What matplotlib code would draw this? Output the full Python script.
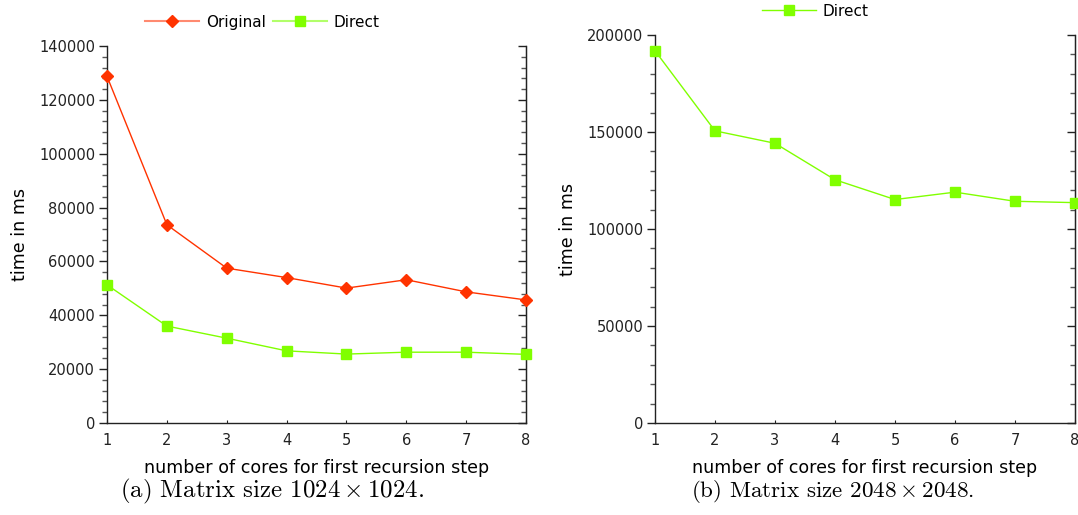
import matplotlib
matplotlib.use('Agg')
import matplotlib.pyplot as plt
from matplotlib.ticker import MultipleLocator

# data
cores = [1, 2, 3, 4, 5, 6, 7, 8]
orig_1024 = [128700, 73600, 57500, 54000, 50100, 53200, 48700, 45700]
direct_1024 = [51300, 36000, 31500, 26800, 25600, 26300, 26300, 25500]
direct_2048 = [191900, 150600, 144200, 125400, 115200, 119000, 114300, 113600]

red = '#ff3300'
green = '#80ff00'
red_light = '#ff8a70'
green_light = '#b2ff6a'
spine_color = '#222222'
tick_size = 10.5
label_size = 12.6
legend_size = 11

plt.rcParams['mathtext.fontset'] = 'cm'

fig = plt.figure(figsize=(10.78, 5.15), dpi=100)
ax1 = fig.add_axes([0.0993, 0.1786, 0.3887, 0.7321])
ax2 = fig.add_axes([0.6076, 0.1786, 0.3896, 0.7534])


def style(ax, ymax, major, minor):
    ax.set_xlim(1, 8)
    ax.set_ylim(0, ymax)
    ax.xaxis.set_major_locator(MultipleLocator(1))
    ax.yaxis.set_major_locator(MultipleLocator(major))
    ax.yaxis.set_minor_locator(MultipleLocator(minor))
    ax.spines['top'].set_visible(False)
    for s in ['left', 'right', 'bottom']:
        ax.spines[s].set_color(spine_color)
        ax.spines[s].set_linewidth(1)
    ax.tick_params(axis='y', which='major', direction='out', length=5.5, width=1,
                   labelsize=tick_size, colors=spine_color, pad=3)
    ax.tick_params(axis='y', which='minor', direction='out', length=3.5, width=1,
                   colors='#555555')
    ax.tick_params(axis='x', which='major', direction='in', length=2.5,
                   labelsize=tick_size, colors=spine_color, pad=7)
    # right side ticks point inwards
    sec = ax.secondary_yaxis('right')
    sec.yaxis.set_major_locator(MultipleLocator(major))
    sec.yaxis.set_minor_locator(MultipleLocator(minor))
    sec.tick_params(which='major', direction='in', length=5.5, width=1,
                    colors=spine_color, labelright=False)
    sec.tick_params(which='minor', direction='in', length=3.5, width=1,
                    colors='#555555')
    sec.spines['right'].set_color(spine_color)
    ax.set_xlabel('number of cores for first recursion step', fontsize=label_size,
                  labelpad=8)
    ax.set_ylabel('time in ms', fontsize=label_size, labelpad=7)


def lighten(leg, colors):
    for ln, c in zip(leg.get_lines(), colors):
        mc = ln.get_markerfacecolor()
        ln.set_color(c)
        ln.set_markerfacecolor(mc)
        ln.set_markeredgecolor(mc)
        ln.set_linewidth(1.5)


ax1.plot(cores, orig_1024, color=red, linewidth=1, marker='D', markersize=6,
         label='Original', clip_on=False, zorder=3)
ax1.plot(cores, direct_1024, color=green, linewidth=1, marker='s', markersize=7.5,
         label='Direct', clip_on=False, zorder=3)
style(ax1, 140000, 20000, 4000)
leg1 = ax1.legend(loc='center', bbox_to_anchor=(0.2435, 0.957),
                  bbox_transform=fig.transFigure, ncol=2, frameon=False,
                  fontsize=legend_size, handlelength=3.5, columnspacing=0.5,
                  handletextpad=0.45, borderaxespad=0, borderpad=0)
lighten(leg1, [red_light, green_light])

ax2.plot(cores, direct_2048, color=green, linewidth=1, marker='s', markersize=7.5,
         label='Direct', clip_on=False, zorder=3)
style(ax2, 200000, 50000, 10000)
leg2 = ax2.legend(loc='center', bbox_to_anchor=(0.7565, 0.9786),
                  bbox_transform=fig.transFigure, ncol=1, frameon=False,
                  fontsize=legend_size, handlelength=3.5, handletextpad=0.45,
                  borderaxespad=0, borderpad=0)
for ln in leg2.get_lines():
    ln.set_linewidth(1)

fig.text(0.2523, 0.046, r'(a) Matrix size $1024\times1024$.', family='cmr10',
         fontsize=17.9, ha='center', va='center')
fig.text(0.7723, 0.046, r'(b) Matrix size $2048\times2048$.', family='cmr10',
         fontsize=16.6, ha='center', va='center')

fig.savefig('out.png', dpi=100)
plt.close('all')
